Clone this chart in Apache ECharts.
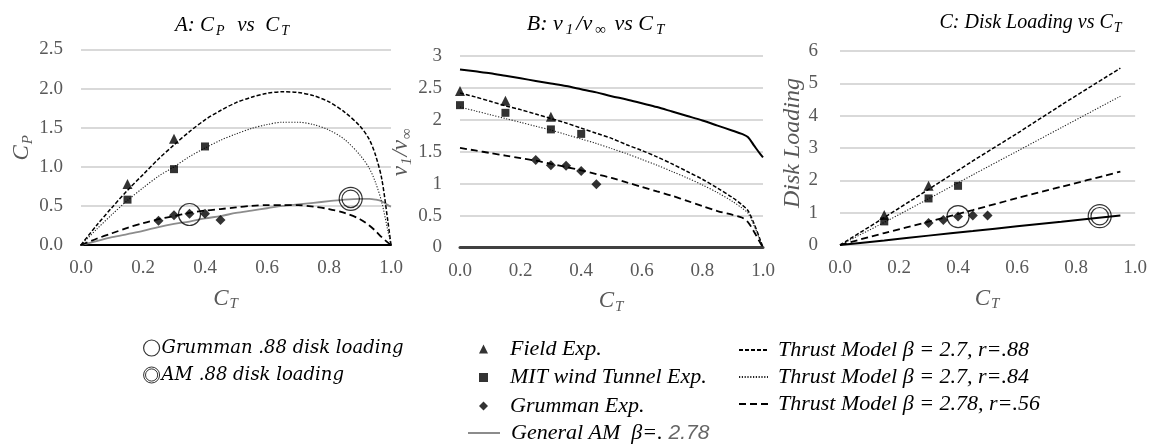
<!DOCTYPE html>
<html><head><meta charset="utf-8">
<script src="https://cdn.jsdelivr.net/npm/echarts@6/dist/echarts.min.js"></script>
<style>html,body{margin:0;padding:0;background:#fff}#c{width:1150px;height:448px}</style>
</head><body><div id="c"></div>
<script>
// ---------- data ----------
const ctCurve = [0, 0.05, 0.1, 0.15, 0.2, 0.25, 0.3, 0.35, 0.4, 0.45, 0.5, 0.55, 0.6, 0.65, 0.7, 0.75, 0.8, 0.85, 0.9, 0.93, 0.95, 0.97, 0.99, 1.0];
// Panel A: C_P
const cpR88 = [0, 0.25, 0.48, 0.7, 0.9, 1.1, 1.28, 1.45, 1.6, 1.72, 1.82, 1.89, 1.94, 1.96, 1.95, 1.91, 1.83, 1.7, 1.52, 1.35, 1.15, 0.85, 0.3, 0];
const cpR84 = [0, 0.2, 0.39, 0.57, 0.73, 0.88, 1.0, 1.13, 1.24, 1.34, 1.42, 1.49, 1.54, 1.57, 1.57, 1.54, 1.47, 1.35, 1.15, 0.98, 0.8, 0.55, 0.18, 0];
const cpR56 = [0, 0.08, 0.15, 0.22, 0.28, 0.33, 0.37, 0.41, 0.44, 0.46, 0.48, 0.5, 0.51, 0.51, 0.51, 0.49, 0.46, 0.41, 0.33, 0.25, 0.18, 0.1, 0.03, 0];
const cpAM  = [0, 0.05, 0.1, 0.14, 0.18, 0.23, 0.27, 0.3, 0.34, 0.37, 0.41, 0.44, 0.47, 0.5, 0.52, 0.54, 0.56, 0.58, 0.59, 0.59, 0.58, 0.56, 0.51, 0.49];
const ctFieldA = [0.15, 0.3], cpFieldA = [0.78, 1.36];
const ctMitA = [0.15, 0.3, 0.4], cpMitA = [0.58, 0.97, 1.26];
const ctGrumA = [0.25, 0.3, 0.35, 0.4, 0.45], cpGrumA = [0.31, 0.38, 0.40, 0.40, 0.32];
const ctCircleA = [0.35], cpCircleA = [0.39];
const ctAMCircleA = [0.87], cpAMCircleA = [0.59];
// Panel B: v1/vinf
const vAM  = [2.79, 2.76, 2.73, 2.69, 2.65, 2.61, 2.57, 2.53, 2.48, 2.43, 2.37, 2.32, 2.26, 2.2, 2.13, 2.06, 1.99, 1.91, 1.83, 1.78, 1.73, 1.6, 1.47, 1.41];
const vR88 = [2.42, 2.36, 2.29, 2.22, 2.16, 2.09, 2.02, 1.95, 1.87, 1.79, 1.71, 1.61, 1.52, 1.42, 1.31, 1.19, 1.07, 0.93, 0.78, 0.67, 0.58, 0.38, 0.13, 0];
const vR84 = [2.2, 2.14, 2.08, 2.02, 1.96, 1.9, 1.84, 1.77, 1.7, 1.63, 1.55, 1.47, 1.38, 1.29, 1.19, 1.09, 0.98, 0.86, 0.72, 0.62, 0.54, 0.35, 0.12, 0];
const vR56 = [1.56, 1.52, 1.48, 1.44, 1.4, 1.36, 1.31, 1.26, 1.21, 1.15, 1.09, 1.02, 0.95, 0.88, 0.81, 0.73, 0.65, 0.57, 0.51, 0.47, 0.4, 0.25, 0.08, 0];
const ctFieldB = [0, 0.15, 0.3], vFieldB = [2.45, 2.3, 2.05];
const ctMitB = [0, 0.15, 0.3, 0.4], vMitB = [2.23, 2.11, 1.85, 1.78];
const ctGrumB = [0.25, 0.3, 0.35, 0.4, 0.45], vGrumB = [1.37, 1.29, 1.28, 1.2, 0.99];
// Panel C: disk loading
const ctLine = [0, 0.15, 0.3, 0.45, 0.6, 0.75, 0.95];
const dlR88 = [0, 0.85, 1.72, 2.6, 3.45, 4.33, 5.47];
const dlR84 = [0, 0.7, 1.43, 2.17, 2.9, 3.63, 4.6];
const dlR56 = [0, 0.37, 0.72, 1.08, 1.45, 1.8, 2.27];
const dlAM  = [0, 0.14, 0.29, 0.43, 0.58, 0.72, 0.91];
const ctFieldC = [0.15, 0.3], dlFieldC = [0.93, 1.83];
const ctMitC = [0.15, 0.3, 0.4], dlMitC = [0.73, 1.44, 1.83];
const ctGrumC = [0.3, 0.35, 0.4, 0.45, 0.5], dlGrumC = [0.68, 0.77, 0.88, 0.91, 0.91];
const ctCircleC = [0.4], dlCircleC = [0.88];
const ctAMCircleC = [0.88], dlAMCircleC = [0.89];
// axis ticks
const xTicks = {min: 0, max: 1, interval: 0.2};
const yTicksA = {min: 0, max: 2.5, interval: 0.5};
const yTicksB = {min: 0, max: 3, interval: 0.5};
const yTicksC = {min: 0, max: 6, interval: 1};

const N_R88 = 'Thrust Model \u03B2 = 2.7, r=.88';
const N_R84 = 'Thrust Model \u03B2 = 2.7, r=.84';
const N_R56 = 'Thrust Model \u03B2 = 2.78, r=.56';
const N_AM = 'General AM';
const N_FIELD = 'Field Exp.';
const N_MIT = 'MIT wind Tunnel Exp.';
const N_GRUM = 'Grumman Exp.';
const N_CIRC = 'Grumman .88 disk loading';
const N_AMC = 'AM .88 disk loading';

// ---------- styling ----------
const SERIF = 'Liberation Serif';
const GRAY = '#595959';
const zip = (xs, ys) => xs.map((x, i) => [x, ys[i]]);
const mkRich = (fs, ss, pad) => ({
  i: {fontFamily: SERIF, fontStyle: 'italic', fontSize: fs, color: GRAY},
  s: {fontFamily: SERIF, fontStyle: 'italic', fontSize: ss, color: GRAY, padding: pad}
});
const richN = mkRich(23, 15, [12, 1, 0, 1]);
const DOUBLE_CIRCLE = 'path://M0,-10A10,10 0 1,1 0,10A10,10 0 1,1 0,-10ZM0,-7.6A7.6,7.6 0 1,1 0,7.6A7.6,7.6 0 1,1 0,-7.6Z';

const grids = [
  {left: 81, top: 49.5, width: 310, height: 195.5},
  {left: 460, top: 56, width: 303, height: 191.5},
  {left: 840, top: 51, width: 297, height: 194}
];
const axisLines = [
  {show: true, lineStyle: {color: '#000', width: 2}},
  {show: true, lineStyle: {color: '#404040', width: 3}},
  {show: false}
];
const tickLabel = {fontFamily: SERIF, fontSize: 19, color: GRAY};
const xAxes = grids.map((g, i) => ({
  type: 'value', gridIndex: i, min: xTicks.min, max: xTicks.max, interval: xTicks.interval,
  axisLine: axisLines[i], axisTick: {show: false}, splitLine: {show: false},
  axisLabel: Object.assign({margin: 14, formatter: v => v.toFixed(1)}, tickLabel),
  name: '{i|C}{s|T}', nameLocation: 'middle', nameGap: 40,
  nameTextStyle: {rich: richN, padding: i === 0 ? [0, 20, 0, 0] : 0}
}));
const yT = [yTicksA, yTicksB, yTicksC];
const yAxes = grids.map((g, i) => ({
  type: 'value', gridIndex: i, min: yT[i].min, max: yT[i].max, interval: yT[i].interval,
  axisLine: {show: false}, axisTick: {show: false},
  splitLine: {show: true, lineStyle: {color: '#d9d9d9', width: 2}},
  axisLabel: Object.assign({margin: i === 2 ? 22 : 18, formatter: i === 0 ? (v => v.toFixed(1)) : (v => String(v))}, tickLabel),
  nameLocation: 'middle'
}));
yAxes[0].name = '{i|C}{s|P}'; yAxes[0].nameGap = 30; yAxes[0].nameTextStyle = {rich: richN};
yAxes[1].name = '{i|v}{s|1}{i|/v}{s|\u221E}'; yAxes[1].nameGap = 37; yAxes[1].nameTextStyle = {rich: richN};
yAxes[2].name = 'Disk Loading'; yAxes[2].nameGap = 30;
yAxes[2].nameTextStyle = {fontFamily: SERIF, fontStyle: 'italic', fontSize: 24, color: GRAY, padding: [0, 0, 0, 10]};

const styR88 = {color: '#000', width: 1.5, type: [4, 2]};
const styR84 = {color: '#222', width: 1.1, type: [1.2, 1.6]};
const styR56 = {color: '#000', width: 1.8, type: [7, 4]};

function lineS(name, i, xs, ys, ls, z) {
  return {name, type: 'line', xAxisIndex: i, yAxisIndex: i, data: zip(xs, ys), symbol: 'none', showSymbol: false,
    smooth: 0.3, lineStyle: ls, itemStyle: {color: ls.color}, z: z || 2, silent: true};
}
function scat(name, i, xs, ys, symbol, size) {
  return {name, type: 'scatter', xAxisIndex: i, yAxisIndex: i, data: zip(xs, ys), symbol, symbolSize: size,
    itemStyle: {color: '#000'}, z: 4, silent: true};
}
function ring(name, i, xs, ys, symbol, size) {
  return {name, type: 'scatter', xAxisIndex: i, yAxisIndex: i, data: zip(xs, ys), symbol, symbolSize: size,
    itemStyle: {color: 'rgba(0,0,0,0)', borderColor: '#000', borderWidth: 1.2}, z: 5, silent: true};
}

const series = [
  // A
  lineS(N_AM, 0, ctCurve, cpAM, {color: '#8c8c8c', width: 1.8, type: 'solid'}),
  lineS(N_R88, 0, ctCurve, cpR88, styR88),
  lineS(N_R84, 0, ctCurve, cpR84, styR84),
  lineS(N_R56, 0, ctCurve, cpR56, styR56),
  scat(N_FIELD, 0, ctFieldA, cpFieldA, 'triangle', 10),
  scat(N_MIT, 0, ctMitA, cpMitA, 'rect', 8),
  scat(N_GRUM, 0, ctGrumA, cpGrumA, 'diamond', 10),
  ring(N_CIRC, 0, ctCircleA, cpCircleA, 'circle', 22),
  ring(N_AMC, 0, ctAMCircleA, cpAMCircleA, DOUBLE_CIRCLE, 23),
  // B
  lineS(N_AM, 1, ctCurve, vAM, {color: '#000', width: 2, type: 'solid'}),
  lineS(N_R88, 1, ctCurve, vR88, styR88),
  lineS(N_R84, 1, ctCurve, vR84, styR84),
  lineS(N_R56, 1, ctCurve, vR56, styR56),
  scat(N_FIELD, 1, ctFieldB, vFieldB, 'triangle', 10),
  scat(N_MIT, 1, ctMitB, vMitB, 'rect', 8),
  scat(N_GRUM, 1, ctGrumB, vGrumB, 'diamond', 10),
  // C
  lineS(N_AM, 2, ctLine, dlAM, {color: '#000', width: 2, type: 'solid'}),
  lineS(N_R88, 2, ctLine, dlR88, styR88),
  lineS(N_R84, 2, ctLine, dlR84, styR84),
  lineS(N_R56, 2, ctLine, dlR56, styR56),
  scat(N_FIELD, 2, ctFieldC, dlFieldC, 'triangle', 10),
  scat(N_MIT, 2, ctMitC, dlMitC, 'rect', 8),
  scat(N_GRUM, 2, ctGrumC, dlGrumC, 'diamond', 10),
  ring(N_CIRC, 2, ctCircleC, dlCircleC, 'circle', 22),
  ring(N_AMC, 2, ctAMCircleC, dlAMCircleC, DOUBLE_CIRCLE, 23)
];

const legText = (padL, fs) => ({fontFamily: SERIF, fontStyle: 'italic', fontSize: fs, color: '#000', padding: [0, 0, 0, padL],
  rich: {
    a: {fontFamily: SERIF, fontStyle: 'italic', fontSize: fs, color: '#000'},
    b: {fontFamily: 'Liberation Sans', fontStyle: 'italic', fontSize: fs - 1, color: '#666'}
  }});
const noDot = {opacity: 0};
const legends = [
  {data: [
     {name: N_CIRC, itemStyle: {color: 'rgba(0,0,0,0)', borderColor: '#000', borderWidth: 1.2}},
     {name: N_AMC, itemStyle: {color: 'rgba(0,0,0,0)', borderColor: '#000', borderWidth: 1}}],
   left: 143, top: 339, padding: 0, orient: 'vertical', itemWidth: 16, itemHeight: 16, itemGap: 9, selectedMode: false,
   textStyle: {fontFamily: 'DejaVu Serif', fontStyle: 'italic', fontSize: 18, color: '#000', padding: [0, 0, 0, -3]}},
  {data: [N_FIELD, N_MIT, N_GRUM],
   left: 479, top: 338, padding: 0, orient: 'vertical', itemWidth: 9, itemHeight: 9, itemGap: 6.5, selectedMode: false,
   textStyle: legText(17, 22)},
  {data: [{name: N_AM, itemStyle: noDot}],
   left: 467, top: 422, padding: 0, orient: 'vertical', itemWidth: 32, itemHeight: 9, selectedMode: false,
   formatter: () => '{a|General AM  \u03B2=.}{b| 2.78}',
   textStyle: legText(6, 22)},
  {data: [{name: N_R88, itemStyle: noDot}, {name: N_R84, itemStyle: noDot}, {name: N_R56, itemStyle: noDot}],
   left: 738, top: 339, padding: 0, orient: 'vertical', itemWidth: 29, itemHeight: 9, itemGap: 5, selectedMode: false,
   textStyle: legText(5, 22)}
];

const titles = [
  {x: 233, y: 25, t: '{i|A: C}{s|P}{i|  vs  C}{s|T}', r: mkRich(21, 14, [12, 2, 0, 2])},
  {x: 597, y: 24, t: '{i|B: v}{s|1}{i|/v}{s|\u221E}{i| vs C}{s|T}', r: mkRich(22, 15, [12, 3, 0, 3])},
  {x: 1031, y: 23, t: '{i|C: Disk Loading vs C}{s|T}', r: mkRich(20, 14, [11, 1, 0, 1])}
];

const chart = echarts.init(document.getElementById('c'), null, {renderer: 'canvas'});
chart.setOption({
  animation: false,
  backgroundColor: '#fff',
  grid: grids,
  xAxis: xAxes,
  yAxis: yAxes,
  legend: legends,
  series: series,
  graphic: titles.map(t => ({type: 'text', x: t.x, y: t.y, silent: true,
    style: {text: t.t, rich: t.r, align: 'center', verticalAlign: 'middle'}}))
});
</script>
</body></html>
